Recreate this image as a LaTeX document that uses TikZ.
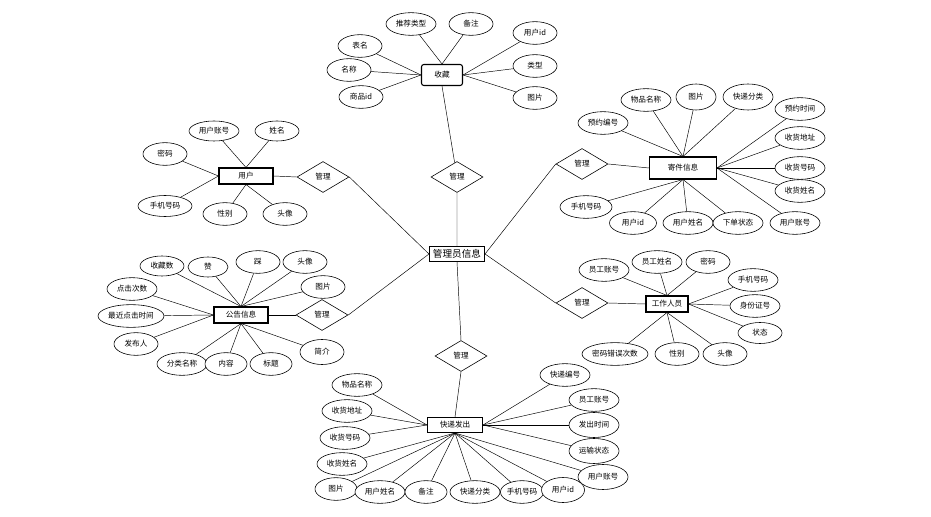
\documentclass[tikz,border=0pt]{standalone}
\usepackage{fontspec}
\setmainfont{Noto Sans CJK SC}
\usetikzlibrary{shapes.geometric, backgrounds}
\newcommand{\erfont}{\fontsize{6.5}{8}\selectfont}

\tikzset{
  attr/.style={draw, ellipse, fill=white, line width=0.5pt, inner sep=0pt,
               minimum width=1.32cm, minimum height=0.68cm, font=\erfont},
  attrl/.style={attr, minimum width=1.5cm},
  attrxl/.style={attr, minimum width=1.98cm},
  entity/.style={draw, rectangle, fill=white, line width=0.9pt, inner sep=0pt,
                 minimum height=0.48cm, font=\erfont},
  rel/.style={draw, diamond, aspect=1.7, fill=white, line width=0.5pt, inner sep=0pt,
              minimum width=1.56cm, minimum height=0.93cm, font=\erfont},
  link/.style={line width=0.6pt}
}

\begin{document}
\begin{tikzpicture}[x=0.03cm, y=-0.03cm]
        \useasboundingbox (0,0) rectangle (931,517);
        % Admin box
        \node[entity, minimum width=1.65cm, minimum height=0.45cm, font=\fontsize{8.2}{10}\selectfont] (admin) at (457,254) {管理员信息};
        % Manage diamonds
        \node[rel] (relC) at (457,177) {管理};
        \node[rel] (relU) at (323,177) {管理};
        \node[rel] (relJ) at (582,164) {管理};
        \node[rel] (relG) at (322,315) {管理};
        \node[rel] (relW) at (582,303) {管理};
        \node[rel] (relK) at (461,356) {管理};
        % Entity boxes
        \node[entity, rounded corners=2pt, minimum width=1.23cm, minimum height=0.63cm] (collect) at (442,75) {收藏};
        \node[entity, minimum width=2.01cm, minimum height=0.66cm] (mail) at (683,168) {寄件信息};
        \node[entity, minimum width=1.62cm] (user) at (246,176) {用户};
        \node[entity, minimum width=1.62cm] (notice) at (241,315) {公告信息};
        \node[entity, minimum width=1.26cm] (staff) at (667,304) {工作人员};
        \node[entity, minimum width=1.65cm, minimum height=0.45cm] (send) at (455,425) {快递发出};
        % Collect attributes
        \node[attrl] (c1) at (411,24) {推荐类型};
        \node[attr] (c2) at (471,24) {备注};
        \node[attr] (c3) at (360,46) {表名};
        \node[attr] (c4) at (349,70) {名称};
        \node[attr] (c5) at (361,97) {商品id};
        \node[attr] (c6) at (535,33) {用户id};
        \node[attr] (c7) at (535,66) {类型};
        \node[attr] (c8) at (535,98) {图片};
        % Mail attributes
        \node[attrl] (m1) at (603,123) {预约编号};
        \node[attrl] (m2) at (646,100) {物品名称};
        \node[attr, minimum width=1.2cm, minimum height=0.78cm] (m3) at (696,97) {图片};
        \node[attrl, minimum height=0.78cm] (m4) at (748,97) {快递分类};
        \node[attrl] (m5) at (800,109) {预约时间};
        \node[attrl] (m6) at (800,138) {收货地址};
        \node[attrl] (m7) at (800,168) {收货号码};
        \node[attrl] (m8) at (800,191) {收货姓名};
        \node[attrl] (m9) at (795,223) {用户账号};
        \node[attrl] (m11) at (688,223) {用户姓名};
        \node[attrl] (m10) at (738,223) {下单状态};
        \node[attr, minimum width=1.41cm] (m12) at (633,223) {用户id};
        \node[attrl, minimum width=1.56cm] (m13) at (586,207) {手机号码};
        % User attributes
        \node[attrl, minimum height=0.6cm] (u1) at (214,131) {用户账号};
        \node[attr, minimum height=0.6cm] (u2) at (277,131) {姓名};
        \node[attr] (u3) at (165,154) {密码};
        \node[attrl, minimum width=1.62cm, minimum height=0.63cm] (u4) at (165,206) {手机号码};
        \node[attr] (u5) at (225,214) {性别};
        \node[attr] (u6) at (285,214) {头像};
        % Notice attributes
        \node[attr, minimum height=0.6cm] (g1) at (162,266) {收藏数};
        \node[attr, minimum width=1.2cm, minimum height=0.6cm] (g2) at (208,267) {赞};
        \node[attr] (g3) at (258,262) {踩};
        \node[attr] (g4) at (305,262) {头像};
        \node[attr] (g5) at (323,287) {图片};
        \node[attrl] (g6) at (132,289) {点击次数};
        \node[attrxl] (g7) at (131,316) {最近点击时间};
        \node[attr] (g8) at (136,344) {发布人};
        \node[attrl] (g9) at (182,364) {分类名称};
        \node[attr, minimum width=1.26cm] (g10) at (226,364) {内容};
        \node[attr, minimum width=1.26cm] (g11) at (271,364) {标题};
        \node[attr, minimum height=0.75cm] (g12) at (322,352) {简介};
        % Staff attributes
        \node[attrl] (w1) at (604,270) {员工账号};
        \node[attrl] (w2) at (657,262) {员工姓名};
        \node[attr] (w3) at (708,262) {密码};
        \node[attrl] (w4) at (753,280) {手机号码};
        \node[attrl] (w5) at (755,306) {身份证号};
        \node[attr, minimum height=0.63cm] (w6) at (760,333) {状态};
        \node[attr] (w7) at (725,354) {头像};
        \node[attr] (w8) at (677,354) {性别};
        \node[attrxl] (w9) at (615,354) {密码错误次数};
        % Send attributes
        \node[attrl] (k1) at (357,385) {物品名称};
        \node[attrl] (k2) at (347,411) {收货地址};
        \node[attrl] (k3) at (345,438) {收货号码};
        \node[attrl] (k4) at (342,464) {收货姓名};
        \node[attr, minimum width=1.26cm] (k5) at (336,489) {图片};
        \node[attrl] (k6) at (380,492) {用户姓名};
        \node[attr, minimum width=1.26cm] (k7) at (426,492) {备注};
        \node[attrl] (k8) at (475,492) {快递分类};
        \node[attr, minimum width=1.29cm] (k9) at (522,492) {手机号码};
        \node[attr, minimum width=1.29cm, minimum height=0.75cm] (k10) at (563,490) {用户id};
        \node[attrl, minimum height=0.75cm] (k11) at (603,477) {用户账号};
        \node[attrl, minimum height=0.75cm] (k12) at (594,451) {运输状态};
        \node[attrl, minimum height=0.75cm] (k13) at (594,425) {发出时间};
        \node[attrl] (k14) at (594,400) {员工账号};
        \node[attrl] (k15) at (565,375) {快递编号};
        % Connectors, kept behind the shapes
        \begin{scope}[on background layer, link]
        \draw (admin) -- (relC) -- (collect.south);
        \draw (admin.west) -- (relU.east);
        \draw (relU.west) -- (user.east);
        \draw (admin.east) -- (relJ.west);
        \draw (relJ.east) -- (mail.west);
        \draw (admin.west) -- (relG.east);
        \draw (relG.west) -- (notice.east);
        \draw (admin.east) -- (relW.west);
        \draw (relW.east) -- (staff.west);
        \draw (admin.south) -- (relK.north);
        \draw (relK.south) -- (send.north);
        \foreach \a in {c1,c2} \draw (\a) -- (collect.north);
        \foreach \a in {c3,c4,c5} \draw (\a) -- (collect.west);
        \foreach \a in {c6,c7,c8} \draw (\a) -- (collect.east);
        \foreach \a in {m1,m2,m3,m4} \draw (\a) -- (mail.north);
        \foreach \a in {m5,m6,m7,m8,m9} \draw (\a) -- (mail.east);
        \foreach \a in {m10,m11,m12,m13} \draw (\a) -- (mail.south);
        \foreach \a in {u1,u2} \draw (\a) -- (user.north);
        \foreach \a in {u3,u4} \draw (\a) -- (user.west);
        \foreach \a in {u5,u6} \draw (\a) -- (user.south);
        \foreach \a in {g1,g2,g3,g4,g5} \draw (\a) -- (notice.north);
        \foreach \a in {g6,g7,g8} \draw (\a) -- (notice.west);
        \foreach \a in {g9,g10,g11,g12} \draw (\a) -- (notice.south);
        \foreach \a in {w1,w2,w3} \draw (\a) -- (staff.north);
        \foreach \a in {w4,w5,w6} \draw (\a) -- (staff.east);
        \foreach \a in {w7,w8,w9} \draw (\a) -- (staff.south);
        \foreach \a in {k1,k2,k3} \draw (\a) -- (send.west);
        \foreach \a in {k4,k5,k6,k7,k8,k9,k10,k11} \draw (\a) -- (send.south);
        \foreach \a in {k12,k13,k14,k15} \draw (\a) -- (send.east);
        \end{scope}
\end{tikzpicture}
\end{document}
